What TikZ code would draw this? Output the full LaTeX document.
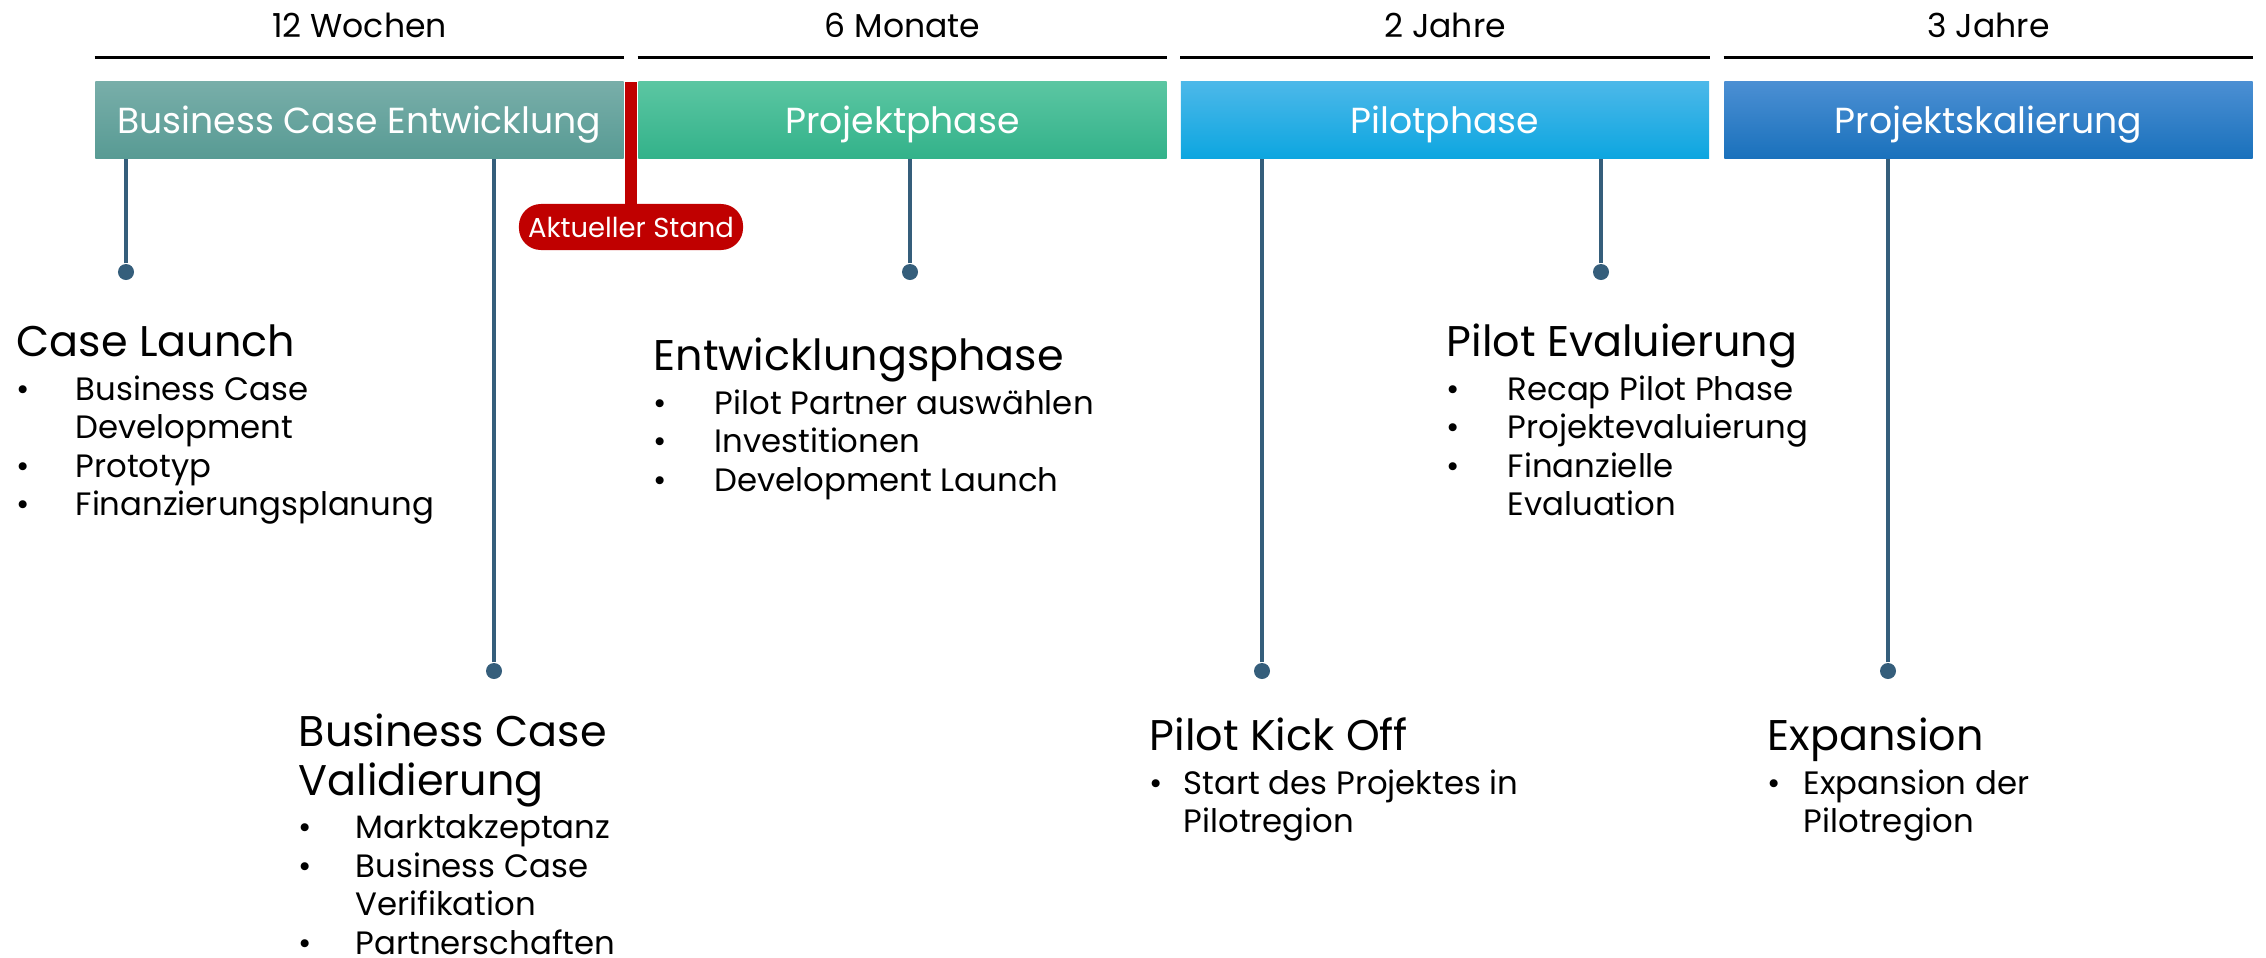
\documentclass[tikz,border=0pt]{standalone}
\usepackage{fontspec}
\setmainfont{Poppins}
\usepackage{tikz}

\definecolor{linie}{HTML}{355E7B}
\definecolor{rot}{HTML}{C00000}
\definecolor{tealA}{HTML}{78AEA9}
\definecolor{tealB}{HTML}{589B94}
\definecolor{gruenA}{HTML}{5BC6A2}
\definecolor{gruenB}{HTML}{33B28A}
\definecolor{blauA}{HTML}{4CB8E9}
\definecolor{blauB}{HTML}{0DA6E0}
\definecolor{dunkelA}{HTML}{4B8FD3}
\definecolor{dunkelB}{HTML}{1A71BC}

\newcommand{\ttl}[1]{{\fontsize{12.2}{14.5}\selectfont #1}}

\tikzset{
  balken/.style={minimum width=5.28cm, minimum height=0.76cm, inner sep=0pt, text depth=0pt,
    text=white, font=\fontsize{10.3}{12}\selectfont},
  kopf/.style={font=\fontsize{9.4}{11}\selectfont},
  regel/.style={line width=0.85pt, black},
  stiel/.style={linie, line width=1.25pt},
  punkt/.style={circle, fill=linie, inner sep=0pt, minimum size=0.16cm},
  block/.style={anchor=base west, inner sep=0pt, font=\fontsize{9.2}{10.95}\selectfont}
}

\begin{document}
\begin{tikzpicture}[x=0.01cm, y=-0.01cm]
  \useasboundingbox (0,0) rectangle (2266,957);

  % phase bars
  \node[balken, top color=tealA, bottom color=tealB] (b1) at (359.5,120) {Business Case Entwicklung};
  \node[balken, top color=gruenA, bottom color=gruenB] (b2) at (902.5,120) {Projektphase};
  \node[balken, top color=blauA, bottom color=blauB] (b3) at (1445,120) {Pilotphase};
  \node[balken, top color=dunkelA, bottom color=dunkelB] (b4) at (1988.5,120) {Projektskalierung};

  % durations
  \node[kopf] (h1) at (359.5,25) {12 Wochen};
  \node[kopf] (h2) at (902.5,25) {6 Monate};
  \node[kopf] (h3) at (1445,25) {2 Jahre};
  \node[kopf] (h4) at (1988.5,25) {3 Jahre};
  \draw[regel] ([yshift=0.24cm]b1.north west) -- ([yshift=0.24cm]b1.north east);
  \draw[regel] ([yshift=0.24cm]b2.north west) -- ([yshift=0.24cm]b2.north east);
  \draw[regel] ([yshift=0.24cm]b3.north west) -- ([yshift=0.24cm]b3.north east);
  \draw[regel] ([yshift=0.24cm]b4.north west) -- ([yshift=0.24cm]b4.north east);

  % current state marker
  \fill[rot] (625,82) rectangle (637,215);
  \node[fill=rot, text=white, rounded corners=0.22cm, minimum width=2.24cm, minimum height=0.46cm,
    inner sep=0pt, font=\fontsize{7.8}{9}\selectfont] (stand) at (631,227) {Aktueller Stand};

  % milestones
  \node[punkt] (d1) at (126,272) {};
  \node[punkt] (d2) at (494,671) {};
  \node[punkt] (d3) at (910,272) {};
  \node[punkt] (d4) at (1262,671) {};
  \node[punkt] (d5) at (1601,272) {};
  \node[punkt] (d6) at (1888,671) {};
  \draw[stiel] (d1) -- (d1 |- b1.south);
  \draw[stiel] (d2) -- (d2 |- b1.south);
  \draw[stiel] (d3) -- (d3 |- b2.south);
  \draw[stiel] (d4) -- (d4 |- b3.south);
  \draw[stiel] (d5) -- (d5 |- b3.south);
  \draw[stiel] (d6) -- (d6 |- b4.south);

  \node[block] (t1) at (16,356) {\begin{tabular}[t]{@{}p{0.59cm}@{}l@{}}
    \multicolumn{2}{@{}l@{}}{\ttl{Case Launch}}\\[1.6pt]
    \textbullet & Business Case\\
                & Development\\
    \textbullet & Prototyp\\
    \textbullet & Finanzierungsplanung
  \end{tabular}};
  \node[block] (t2) at (298,746) {\begin{tabular}[t]{@{}p{0.57cm}@{}l@{}}
    \multicolumn{2}{@{}l@{}}{\ttl{Business Case}}\\[1.5pt]
    \multicolumn{2}{@{}l@{}}{\ttl{Validierung}}\\[1.4pt]
    \textbullet & Marktakzeptanz\\
    \textbullet & Business Case\\
                & Verifikation\\
    \textbullet & Partnerschaften
  \end{tabular}};
  \node[block] (t3) at (653,370) {\begin{tabular}[t]{@{}p{0.61cm}@{}l@{}}
    \multicolumn{2}{@{}l@{}}{\ttl{Entwicklungsphase}}\\[1.6pt]
    \textbullet & Pilot Partner auswählen\\
    \textbullet & Investitionen\\
    \textbullet & Development Launch
  \end{tabular}};
  \node[block] (t4) at (1149,750) {\begin{tabular}[t]{@{}p{0.34cm}@{}l@{}}
    \multicolumn{2}{@{}l@{}}{\ttl{Pilot Kick Off}}\\[1.6pt]
    \textbullet & Start des Projektes in\\
                & Pilotregion
  \end{tabular}};
  \node[block] (t5) at (1446,356) {\begin{tabular}[t]{@{}p{0.61cm}@{}l@{}}
    \multicolumn{2}{@{}l@{}}{\ttl{Pilot Evaluierung}}\\[1.6pt]
    \textbullet & Recap Pilot Phase\\
    \textbullet & Projektevaluierung\\
    \textbullet & Finanzielle\\
                & Evaluation
  \end{tabular}};
  \node[block] (t6) at (1767,750) {\begin{tabular}[t]{@{}p{0.36cm}@{}l@{}}
    \multicolumn{2}{@{}l@{}}{\ttl{Expansion}}\\[1.6pt]
    \textbullet & Expansion der\\
                & Pilotregion
  \end{tabular}};
\end{tikzpicture}
\end{document}
